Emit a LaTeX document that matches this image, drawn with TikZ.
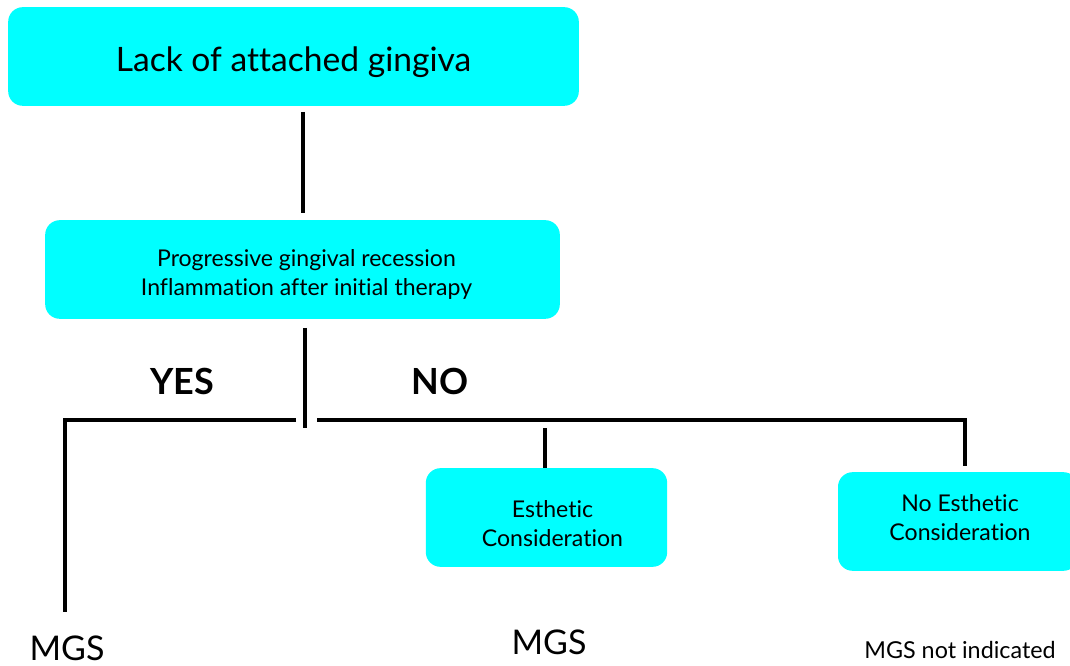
\documentclass[tikz,border=0pt]{standalone}
\usepackage{fontspec}
\setmainfont{Lato}[Ligatures=NoCommon]
\usetikzlibrary{positioning}
\definecolor{aqua}{RGB}{0,255,255}

\begin{document}
\begin{tikzpicture}[
    x=0.75pt, y=-0.75pt,
    box/.style={rectangle, fill=aqua, rounded corners=11pt, inner sep=0pt, minimum height=74pt},
    boxtext/.style={align=center, inner sep=0pt, font=\fontsize{17.3}{21.8}\selectfont},
    link/.style={line width=3.6pt},
    answer/.style={font=\fontsize{27}{31}\selectfont\bfseries},
    result/.style={font=\fontsize{25.5}{30}\selectfont}
]
\useasboundingbox (0,0) rectangle (1070,666);

% Boxes
\node[box, minimum width=428pt,
      label={[boxtext, font=\fontsize{25.2}{30}\selectfont, yshift=-4.5pt]center:Lack of attached gingiva}] (lack) at (293.5,56.5) {};
\node[box, minimum width=386pt,
      label={[boxtext, xshift=3pt, yshift=-3.8pt]center:{Progressive gingival recession\\Inflammation after initial therapy}}] (prog) at (302.5,269.5) {};
\node[box, minimum width=181pt,
      label={[boxtext, xshift=4.5pt, yshift=-4.5pt]center:{Esthetic\\Consideration}}] (esth) at (546.5,517.5) {};
\node[box, minimum width=180pt,
      label={[boxtext, xshift=1.5pt, yshift=3pt]center:{No Esthetic\\Consideration}}] (noesth) at (958,521.5) {};

% Answers
\node[answer] (yes) at (182,381) {YES};
\node[answer] (no) at (440,381) {NO};

% Results
\node[result] (mgsleft) at (67,648) {MGS};
\node[result] (mgsmid) at (549,642) {MGS};
\node[font=\fontsize{17.5}{21}\selectfont] (mgsnot) at (960,650) {MGS not indicated};

% Junctions
\coordinate (top1) at (303,112);
\coordinate (bot1) at (303,213);
\coordinate (top2) at (305,328);
\coordinate (bot2) at (305,428);
\coordinate (leftend) at (296,420);
\coordinate (leftcorner) at (65,420);
\coordinate (leftfoot) at (65,612);
\coordinate (rightstart) at (317,420);
\coordinate (rightcorner) at (965,420);
\coordinate (midtop) at (545,428);
\coordinate (rightfoot) at (965,466);

% Lines
\draw[link] (top1) -- (bot1);
\draw[link] (top2) -- (bot2);
\draw[link] (leftend) -- (leftcorner) -- (leftfoot);
\draw[link] (rightstart) -- (rightcorner) -- (rightfoot);
\draw[link] (midtop) -- (esth.north -| midtop);

\end{tikzpicture}
\end{document}
